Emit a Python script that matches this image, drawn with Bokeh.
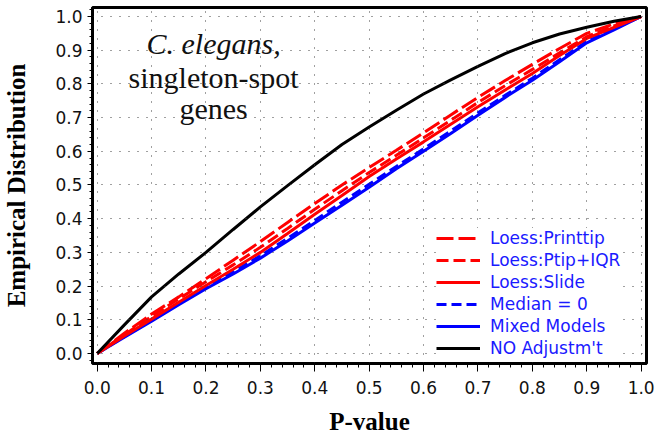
from bokeh.plotting import figure
from bokeh.models import (Range1d, Legend, LegendItem, Label, ColumnDataSource,
                          SingleIntervalTicker, PrintfTickFormatter)
from bokeh.embed import file_html
from bokeh.resources import INLINE

# ---- data ----
pvals = [0.0, 0.05, 0.1, 0.15, 0.2, 0.25, 0.3, 0.35, 0.4, 0.45, 0.5,
         0.55, 0.6, 0.65, 0.7, 0.75, 0.8, 0.85, 0.9, 0.95, 1.0]
loess_printtip = [0.0, 0.060, 0.117, 0.168, 0.222, 0.277, 0.332, 0.389, 0.445, 0.500, 0.552,
                  0.603, 0.655, 0.708, 0.760, 0.810, 0.858, 0.905, 0.950, 0.978, 1.0]
loess_ptip_iqr = [0.0, 0.056, 0.110, 0.162, 0.213, 0.263, 0.315, 0.371, 0.428, 0.483, 0.537,
                  0.588, 0.640, 0.692, 0.745, 0.795, 0.843, 0.892, 0.940, 0.972, 1.0]
loess_slide = [0.0, 0.052, 0.102, 0.152, 0.202, 0.250, 0.300, 0.356, 0.413, 0.469, 0.525,
               0.577, 0.628, 0.680, 0.732, 0.782, 0.831, 0.884, 0.935, 0.968, 1.0]
median_zero = [0.0, 0.050, 0.099, 0.148, 0.196, 0.242, 0.290, 0.342, 0.395, 0.449, 0.502,
               0.555, 0.607, 0.660, 0.714, 0.766, 0.817, 0.872, 0.926, 0.963, 1.0]
mixed_models = [0.0, 0.048, 0.096, 0.145, 0.192, 0.236, 0.283, 0.334, 0.387, 0.440, 0.493,
                0.548, 0.600, 0.653, 0.707, 0.760, 0.811, 0.866, 0.922, 0.960, 1.0]
no_adjust = [0.0, 0.085, 0.168, 0.236, 0.300, 0.368, 0.435, 0.498, 0.560, 0.620, 0.672,
             0.722, 0.770, 0.812, 0.852, 0.890, 0.922, 0.948, 0.968, 0.986, 1.0]

series_names = ["Loess:Printtip", "Loess:Ptip+IQR", "Loess:Slide",
                "Median = 0", "Mixed Models", "NO Adjustm't"]
title_lines = ["C. elegans,", "singleton-spot", "genes"]
x_title = "P-value"
y_title = "Empirical Distribution"

# ---- figure ----
p = figure(width=657, height=440, output_backend="svg", toolbar_location=None,
           x_range=Range1d(-0.0086, 1.0098), y_range=Range1d(-0.0297, 1.0267),
           min_border_left=92, min_border_right=11, min_border_top=7, min_border_bottom=77)
p.background_fill_color = "white"
p.border_fill_color = "white"
p.outline_line_color = "black"
p.outline_line_width = 3

ticker = SingleIntervalTicker(interval=0.1, num_minor_ticks=5)
for ax in (p.xaxis[0], p.yaxis[0]):
    ax.ticker = ticker
    ax.formatter = PrintfTickFormatter(format="%.1f")
    ax.axis_line_color = "black"
    ax.axis_line_width = 2
    ax.major_tick_line_color = "black"
    ax.minor_tick_line_color = "black"
    ax.major_tick_in = 0
    ax.minor_tick_in = 0
    ax.major_label_text_font = "DejaVu Sans"
    ax.major_label_text_font_size = "17px"
    ax.major_label_text_color = "#111111"
    ax.axis_label_text_font = "Liberation Serif"
    ax.axis_label_text_font_style = "bold"
    ax.axis_label_text_font_size = "25px"
    ax.axis_label_text_color = "black"

p.xaxis.major_tick_out = 8
p.xaxis.minor_tick_out = 4
p.xaxis.major_label_standoff = 9
p.xaxis.axis_label = x_title
p.xaxis.axis_label_standoff = 11

p.yaxis.major_tick_out = 5
p.yaxis.minor_tick_out = 3
p.yaxis.major_label_standoff = 5
p.yaxis.axis_label = y_title
p.yaxis.axis_label_standoff = 22

for g in (p.xgrid[0], p.ygrid[0]):
    g.ticker = ticker
    g.level = "glyph"
    g.grid_line_color = "#404040"
    g.grid_line_dash = "1 8"
    g.grid_line_width = 1

# ---- curves ----
styles = [
    (loess_printtip, "#ff0000", "17 5"),
    (loess_ptip_iqr, "#ff0000", "12 5"),
    (loess_slide, "#ff0000", "solid"),
    (median_zero, "#0000ff", "10 5"),
    (mixed_models, "#0000ff", "solid"),
    (no_adjust, "#000000", "solid"),
]
src = ColumnDataSource(dict(x=pvals, printtip=loess_printtip, ptip=loess_ptip_iqr,
                            slide=loess_slide, median=median_zero, mixed=mixed_models,
                            noadj=no_adjust))
cols = ["printtip", "ptip", "slide", "median", "mixed", "noadj"]
renderers = {}
for i in [4, 3, 2, 1, 0, 5]:
    _, color, dash = styles[i]
    renderers[i] = p.line("x", cols[i], source=src, line_color=color,
                          line_width=3, line_dash=dash)

items = [LegendItem(label=series_names[i], renderers=[renderers[i]]) for i in range(6)]
legend = Legend(items=items, location=(344, 5))
legend.label_text_font = "DejaVu Sans"
legend.label_text_font_size = "17px"
legend.label_text_color = "#1a1aff"
legend.label_standoff = 10
legend.glyph_width = 44
legend.glyph_height = 20
legend.label_height = 20
legend.spacing = 2
legend.padding = 4
legend.margin = 0
legend.border_line_color = None
legend.background_fill_color = "white"
legend.background_fill_alpha = 1.0
p.add_layout(legend)

# ---- annotation text ----
ann_y = [0.920, 0.819, 0.728]
for i, t in enumerate(title_lines):
    p.add_layout(Label(x=0.214, y=ann_y[i], text=t, text_align="center",
                       text_baseline="alphabetic", text_font="Liberation Serif",
                       text_font_size="30px", text_color="#111111",
                       text_font_style="italic" if i == 0 else "normal"))

open("out.html", "w").write(file_html(p, INLINE))
